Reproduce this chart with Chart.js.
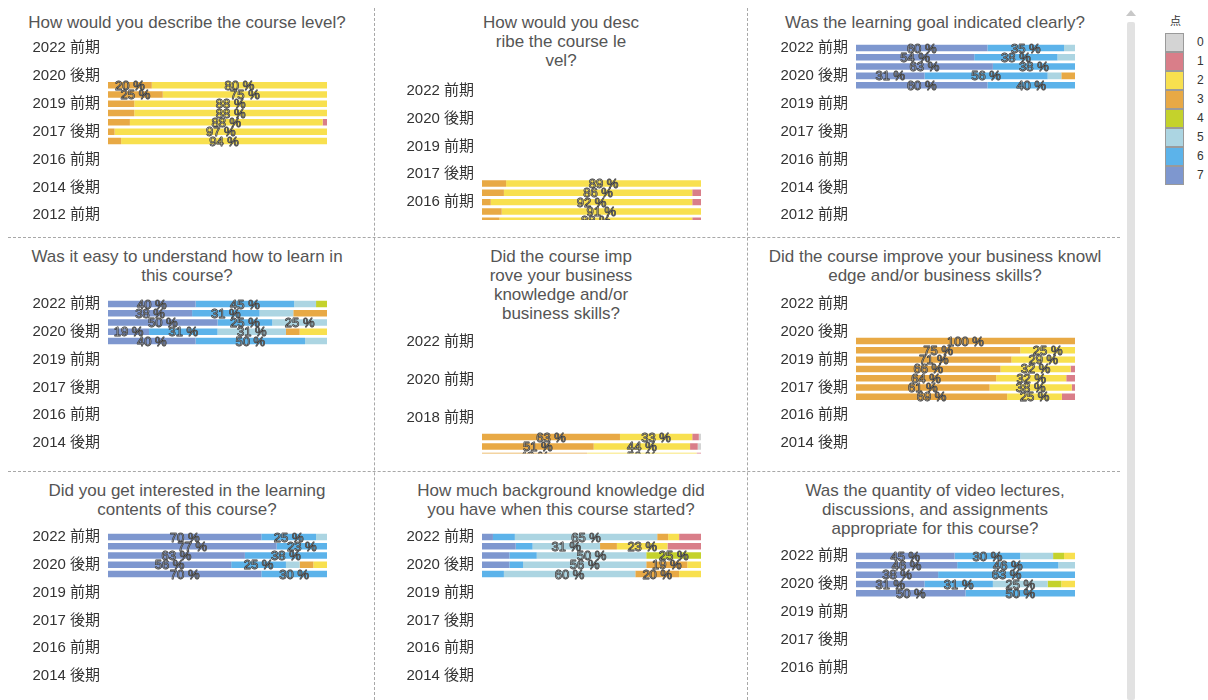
<!DOCTYPE html>
<html>
<head>
<meta charset="utf-8">
<script src="https://cdn.jsdelivr.net/npm/chart.js@4.4.1/dist/chart.umd.min.js"></script>
<style>
  body { margin: 0; width: 1208px; height: 700px; overflow: hidden; position: relative; background: #fff; font-family: "Liberation Sans", Arial, sans-serif; }
  canvas { position: absolute; }
  .title { position: absolute; width: 374px; text-align: center; color: #555; font-size: 17px; line-height: 19px; white-space: pre; }
  .vline { position: absolute; top: 8px; height: 692px; border-left: 1px dashed #a8a8a8; }
  .hline { position: absolute; left: 8px; width: 1112px; border-top: 1px dashed #a8a8a8; }
  .scroll { position: absolute; left: 1127px; top: 22px; width: 8px; height: 678px; background: #e2e2e2; border-radius: 2px; }
  .arrow { position: absolute; left: 1126px; top: 10px; width: 0; height: 0; border-left: 5px solid transparent; border-right: 5px solid transparent; border-bottom: 6px solid #c8c8c8; }
  #legend { position: absolute; left: 1165px; top: 12px; font-size: 12px; color: #333; }
  #legend .head { font-family: "Noto Sans CJK JP", sans-serif; font-size: 11px; margin-left: 5px; height: 21px; }
  #legend .item { position: relative; height: 19px; }
  #legend .box { position: absolute; left: 0; top: 0; width: 17px; height: 17px; border: 1px solid #9a9a9a; }
  #legend .lab { position: absolute; left: 32px; top: 2px; }
</style>
</head>
<body>
<div class="vline" style="left:374px"></div>
<div class="vline" style="left:747px"></div>
<div class="hline" style="top:237px"></div>
<div class="hline" style="top:471px"></div>
<div class="arrow"></div>
<div class="scroll"></div>
<div id="legend"></div>
<script>
// scores in stacking order (left to right) and their colours
const scores = ["7", "6", "5", "4", "3", "2", "1", "0"];
const scoreColors = ["#7e97cf", "#5cb3ea", "#acd5e2", "#c4d22c", "#e8a945", "#f8e04f", "#d97e89", "#d4d4d4"];
const legendScores = ["0", "1", "2", "3", "4", "5", "6", "7"];

const panelTitles = [
  ["How would you describe the course level?"],
  ["How would you desc", "ribe the course le", "vel?"],
  ["Was the learning goal indicated clearly?"],
  ["Was it easy to understand how to learn in", "this course?"],
  ["Did the course imp", "rove your business", "knowledge and/or", "business skills?"],
  ["Did the course improve your business knowl", "edge and/or business skills?"],
  ["Did you get interested in the learning", "contents of this course?"],
  ["How much background knowledge did", "you have when this course started?"],
  ["Was the quantity of video lectures,", "discussions, and assignments", "appropriate for this course?"]
];

const termsLong = ["2022 前期", "2020 後期", "2019 前期", "2017 後期", "2016 前期", "2014 後期", "2012 前期"];
const termsMid = ["2022 前期", "2020 後期", "2019 前期", "2017 後期", "2016 前期", "2014 後期"];
const termsShort = ["2022 前期", "2020 後期", "2019 前期", "2017 後期", "2016 前期"];
const termsEven = ["2022 前期", "2020 前期", "2018 前期"];

// each row: share (%) of scores 7,6,5,4,3,2,1,0
const levelShares = [
  [0, 0, 0, 0, 20, 80, 0, 0],
  [0, 0, 0, 0, 25, 75, 0, 0],
  [0, 0, 0, 0, 12, 88, 0, 0],
  [0, 0, 0, 0, 12, 88, 0, 0],
  [0, 0, 0, 0, 10, 88, 2, 0],
  [0, 0, 0, 0, 3, 97, 0, 0],
  [0, 0, 0, 0, 6, 94, 0, 0]
];
const levelShares2 = [
  [0, 0, 0, 0, 11, 89, 0, 0],
  [0, 0, 0, 0, 10, 86, 4, 0],
  [0, 0, 0, 0, 4, 92, 4, 0],
  [0, 0, 0, 0, 9, 91, 0, 0],
  [0, 0, 0, 0, 8, 88, 4, 0]
];
const goalShares = [
  [60, 35, 5, 0, 0, 0, 0, 0],
  [54, 38, 8, 0, 0, 0, 0, 0],
  [62.5, 37.5, 0, 0, 0, 0, 0, 0],
  [31.25, 56.25, 6.25, 0, 6.25, 0, 0, 0],
  [60, 40, 0, 0, 0, 0, 0, 0]
];
const easyShares = [
  [40, 45, 10, 5, 0, 0, 0, 0],
  [38.4, 30.8, 15.4, 0, 15.4, 0, 0, 0],
  [50, 25, 25, 0, 0, 0, 0, 0],
  [18.75, 31.25, 31.25, 0, 6.25, 12.5, 0, 0],
  [40, 50, 10, 0, 0, 0, 0, 0]
];
const improveShares = [
  [0, 0, 0, 0, 63, 33, 3, 1],
  [0, 0, 0, 0, 51, 44, 3.5, 1.5],
  [0, 0, 0, 0, 48, 50, 2, 0]
];
const improveShares2 = [
  [0, 0, 0, 0, 100, 0, 0, 0],
  [0, 0, 0, 0, 75, 25, 0, 0],
  [0, 0, 0, 0, 71, 29, 0, 0],
  [0, 0, 0, 0, 66, 32, 2, 0],
  [0, 0, 0, 0, 64, 32, 4, 0],
  [0, 0, 0, 0, 61, 37.5, 1.5, 0],
  [0, 0, 0, 0, 69, 25, 6, 0]
];
const interestShares = [
  [70, 25, 5, 0, 0, 0, 0, 0],
  [77, 23, 0, 0, 0, 0, 0, 0],
  [62.5, 37.5, 0, 0, 0, 0, 0, 0],
  [56.25, 25, 6.25, 0, 6.25, 6.25, 0, 0],
  [70, 30, 0, 0, 0, 0, 0, 0]
];
const backgroundShares = [
  [5, 10, 65, 0, 5, 5, 10, 0],
  [15.4, 7.7, 30.8, 0, 7.7, 23.1, 15.3, 0],
  [12.5, 12.5, 50, 25, 0, 0, 0, 0],
  [12.5, 6.25, 56.25, 0, 18.75, 6.25, 0, 0],
  [0, 10, 60, 0, 20, 10, 0, 0]
];
const quantityShares = [
  [45, 30, 15, 5, 0, 5, 0, 0],
  [46.2, 46.2, 7.6, 0, 0, 0, 0, 0],
  [37.5, 62.5, 0, 0, 0, 0, 0, 0],
  [31.25, 31.25, 25, 6.25, 0, 6.25, 0, 0],
  [50, 50, 0, 0, 0, 0, 0, 0]
];

// panel layout: rows per term label, first bar row, y of first term, row height, last visible row
const panels = [
  { terms: termsLong, shares: levelShares, step: 3, firstRow: 4, col: 0, row: 0, titleY: 23, y0: 48, slot: 9.33, max: 18.5 },
  { terms: termsShort, shares: levelShares2, step: 3, firstRow: 10, col: 1, row: 0, titleY: 23, y0: 91, slot: 9.33, max: 13.93 },
  { terms: termsLong, shares: goalShares, step: 3, firstRow: 0, col: 2, row: 0, titleY: 23, y0: 48, slot: 9.33, max: 18.5 },
  { terms: termsMid, shares: easyShares, step: 3, firstRow: 0, col: 0, row: 1, titleY: 257, y0: 304, slot: 9.27, max: 15.5 },
  { terms: termsEven, shares: improveShares, step: 4, firstRow: 10, col: 1, row: 1, titleY: 257, y0: 342, slot: 9.5, max: 11.74 },
  { terms: termsMid, shares: improveShares2, step: 3, firstRow: 4, col: 2, row: 1, titleY: 257, y0: 304, slot: 9.27, max: 15.5 },
  { terms: termsMid, shares: interestShares, step: 3, firstRow: 0, col: 0, row: 2, titleY: 491, y0: 537, slot: 9.27, max: 15.5 },
  { terms: termsMid, shares: backgroundShares, step: 3, firstRow: 0, col: 1, row: 2, titleY: 491, y0: 537, slot: 9.27, max: 15.5 },
  { terms: termsShort, shares: quantityShares, step: 3, firstRow: 0, col: 2, row: 2, titleY: 491, y0: 556, slot: 9.33, max: 12.5 }
];

const panelTops = [0, 237, 471];
const panelHeights = [237, 234, 229];
const panelWidth = 374;
const axisWidth = 108;
const plotRight = 327;

// outlined percentage labels on the big segments
const shareLabels = {
  id: "shareLabels",
  afterDatasetsDraw(chart) {
    const { ctx, chartArea } = chart;
    ctx.save();
    ctx.beginPath();
    ctx.rect(chartArea.left - 30, chartArea.top, chartArea.width + 60, chartArea.bottom - chartArea.top);
    ctx.clip();
    ctx.font = "13px 'Liberation Sans', Arial, sans-serif";
    ctx.textAlign = "center";
    ctx.textBaseline = "middle";
    ctx.lineJoin = "round";
    chart.data.datasets.forEach((ds, i) => {
      chart.getDatasetMeta(i).data.forEach((bar, j) => {
        const value = ds.data[j].x;
        if (value < 17) return;
        const { x, y } = bar.getCenterPoint();
        const text = `${Math.round(value)} %`;
        ctx.lineWidth = 0.9;
        ctx.strokeStyle = "#2e2e2e";
        ctx.strokeText(text, x, y + 1);
        ctx.fillStyle = "rgba(255,255,255,0.3)";
        ctx.fillText(text, x, y + 1);
      });
    });
    ctx.restore();
  }
};

function buildDatasets(shares, firstRow) {
  return scores.map((score, i) => ({
    label: score,
    data: shares.map((row, r) => ({ x: row[i], y: firstRow + r })),
    backgroundColor: scoreColors[i],
    barPercentage: 0.7,
    categoryPercentage: 1,
    clip: 0
  }));
}

function renderPanel(panel, idx) {
  const left = panel.col * panelWidth;
  const top = panelTops[panel.row];
  const height = panelHeights[panel.row];

  const title = document.createElement("div");
  title.className = "title";
  title.style.left = `${left}px`;
  title.style.top = `${panel.titleY - 10}px`;
  title.textContent = panelTitles[idx].join("\n");
  document.body.appendChild(title);

  const canvas = document.createElement("canvas");
  canvas.width = panelWidth;
  canvas.height = height;
  canvas.style.left = `${left}px`;
  canvas.style.top = `${top}px`;
  document.body.appendChild(canvas);

  const areaTop = panel.y0 - 0.5 * panel.slot - top;
  const areaBottom = panel.y0 + panel.max * panel.slot - top;

  const chart = new Chart(canvas, {
    type: "bar",
    data: { datasets: buildDatasets(panel.shares, panel.firstRow) },
    plugins: [shareLabels],
    options: {
      indexAxis: "y",
      responsive: false,
      animation: false,
      devicePixelRatio: 1,
      layout: { padding: { left: 0, right: panelWidth - plotRight, top: areaTop, bottom: height - areaBottom } },
      plugins: { legend: { display: false }, tooltip: { enabled: false } },
      scales: {
        x: { type: "linear", display: false, min: 0, max: 100, stacked: true },
        y: {
          type: "linear",
          reverse: true,
          stacked: true,
          offset: false,
          min: -0.5,
          max: panel.max,
          grid: { display: false, drawTicks: false, offset: false },
          border: { display: false },
          afterBuildTicks: (scale) => {
            scale.ticks = panel.terms.map((t, k) => ({ value: k * panel.step }));
          },
          afterFit: (scale) => { scale.width = axisWidth; },
          ticks: {
            autoSkip: false,
            padding: 8,
            color: "#333",
            font: { family: "'Liberation Sans', 'Noto Sans CJK JP', sans-serif", size: 15 },
            callback: (value, index) => panel.terms[index]
          }
        }
      }
    }
  });

  // nudge the padding until the value range sits on the wanted rows
  for (let pass = 0; pass < 3; pass++) {
    const yScale = chart.scales.y;
    const gotTop = yScale.getPixelForValue(-0.5);
    const gotBottom = yScale.getPixelForValue(panel.max);
    const pad = chart.options.layout.padding;
    if (Math.abs(gotTop - areaTop) < 0.2 && Math.abs(gotBottom - areaBottom) < 0.2) break;
    pad.top += areaTop - gotTop;
    pad.bottom += gotBottom - areaBottom;
    chart.update();
  }
}

function renderLegend() {
  const legend = document.getElementById("legend");
  legend.innerHTML = `<div class="head">点</div>`;
  legendScores.forEach((score) => {
    const item = document.createElement("div");
    item.className = "item";
    const color = scoreColors[scores.indexOf(score)];
    item.innerHTML = `<div class="box" style="background:${color}"></div><div class="lab">${score}</div>`;
    legend.appendChild(item);
  });
}

panels.forEach(renderPanel);
renderLegend();
</script>
</body>
</html>
